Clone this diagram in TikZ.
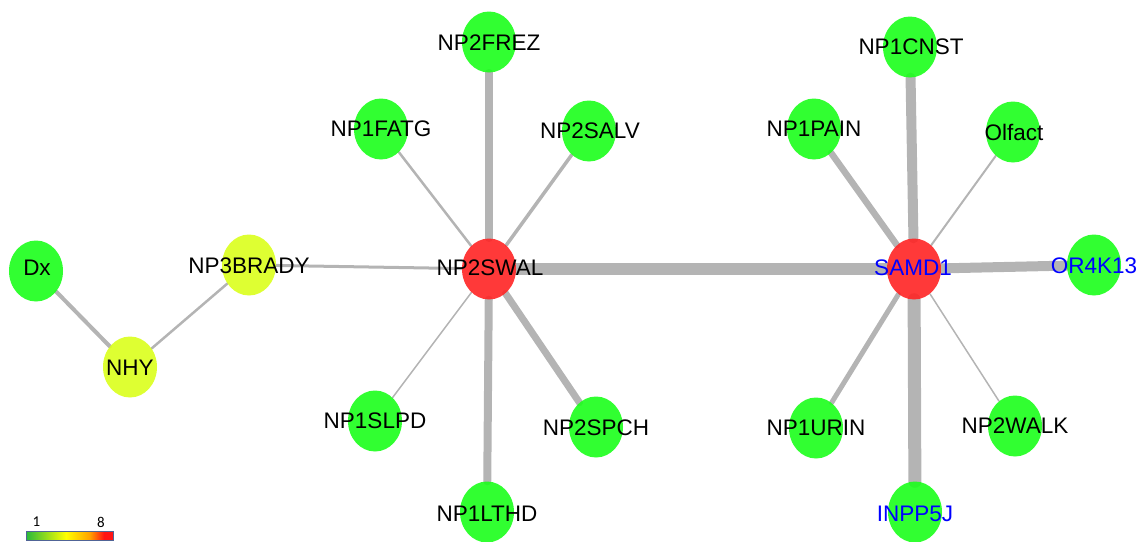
\documentclass[tikz,border=0pt]{standalone}
\usepackage{fontspec}
\setmainfont{Liberation Sans}
\newfontfamily\cbfont{Carlito}
\usetikzlibrary{shapes.geometric,backgrounds}
\definecolor{ngreen}{RGB}{27,255,27}
\definecolor{nred}{RGB}{255,36,36}
\definecolor{nyel}{RGB}{218,255,28}
\definecolor{egray}{RGB}{180,180,180}
\definecolor{nblue}{RGB}{0,0,255}
\definecolor{cbgreen}{RGB}{40,185,60}
\definecolor{cbyel}{RGB}{255,255,0}
\definecolor{cborange}{RGB}{255,160,0}
\definecolor{cbred}{RGB}{255,20,20}
\definecolor{cbframe}{RGB}{80,100,150}
\tikzset{
  nd/.style={ellipse,draw=none,minimum width=54pt,minimum height=61pt,inner sep=0pt,fill opacity=0.9},
  gn/.style={nd,fill=ngreen},
  rn/.style={nd,fill=nred},
  yn/.style={nd,fill=nyel},
  lbl/.style={inner sep=0pt,font=\fontsize{22.5}{26}\selectfont,text=black},
  blbl/.style={lbl,text=nblue},
  ed/.style={draw=egray,line cap=round},
  cblbl/.style={inner sep=0pt,font=\cbfont\fontsize{15}{17}\selectfont},
}
\begin{document}
\begin{tikzpicture}[x=1pt,y=-1pt]
\useasboundingbox (0,0) rectangle (1138,541);
% nodes
\node[gn] (dx) at (36,271) {};
\node[yn] (nhy) at (130,367) {};
\node[yn] (brady) at (249,265) {};
\node[rn] (swal) at (489,269) {};
\node[gn] (frez) at (489,42) {};
\node[gn] (fatg) at (381,129) {};
\node[gn] (salv) at (589,131) {};
\node[gn] (slpd) at (375,421) {};
\node[gn] (spch) at (596,427) {};
\node[gn] (lthd) at (487,512) {};
\node[rn] (samd) at (914,269) {};
\node[gn] (cnst) at (910,47) {};
\node[gn] (pain) at (814,129) {};
\node[gn] (olf) at (1013,132) {};
\node[gn] (or4) at (1094,265) {};
\node[gn] (urin) at (816,428) {};
\node[gn] (walk) at (1015,426) {};
\node[gn] (inpp) at (915,512) {};
% edges
\begin{pgfonlayer}{background}
\draw[ed,line width=4pt] (dx) -- (nhy);
\draw[ed,line width=2.5pt] (nhy) -- (brady);
\draw[ed,line width=3pt] (brady) -- (swal);
\draw[ed,line width=12pt] (swal) -- (samd);
\draw[ed,line width=7.5pt] (swal) -- (frez);
\draw[ed,line width=2.5pt] (swal) -- (fatg);
\draw[ed,line width=3.5pt] (swal) -- (salv);
\draw[ed,line width=1.5pt] (swal) -- (slpd);
\draw[ed,line width=7pt] (swal) -- (spch);
\draw[ed,line width=8pt] (swal) -- (lthd);
\draw[ed,line width=10pt] (samd) -- (cnst);
\draw[ed,line width=6.5pt] (samd) -- (pain);
\draw[ed,line width=2pt] (samd) -- (olf);
\draw[ed,line width=10pt] (samd) -- (or4);
\draw[ed,line width=5pt] (samd) -- (urin);
\draw[ed,line width=1.5pt] (samd) -- (walk);
\draw[ed,line width=13pt] (samd) -- (inpp);
\end{pgfonlayer}
% labels
\node[lbl] (dx-l) at (37,268) {Dx};
\node[lbl] (nhy-l) at (130,368) {NHY};
\node[lbl] (brady-l) at (249,266) {NP3BRADY};
\node[lbl] (swal-l) at (490,268) {NP2SWAL};
\node[lbl] (frez-l) at (489,43) {NP2FREZ};
\node[lbl] (fatg-l) at (381,129) {NP1FATG};
\node[lbl] (salv-l) at (590,131) {NP2SALV};
\node[lbl] (slpd-l) at (375,421) {NP1SLPD};
\node[lbl] (spch-l) at (596,428) {NP2SPCH};
\node[lbl] (lthd-l) at (487,514) {NP1LTHD};
\node[blbl] (samd-l) at (913,268) {SAMD1};
\node[lbl] (cnst-l) at (911,47) {NP1CNST};
\node[lbl] (pain-l) at (814,129) {NP1PAIN};
\node[lbl] (olf-l) at (1014,132) {Olfact};
\node[blbl] (or4-l) at (1094,266) {OR4K13};
\node[lbl] (urin-l) at (816,428) {NP1URIN};
\node[lbl] (walk-l) at (1015,426) {NP2WALK};
\node[blbl] (inpp-l) at (915,514) {INPP5J};
% colour bar
\fill[left color=cbgreen,right color=cbyel] (26,531) rectangle (66,540);
\fill[left color=cbyel,right color=cborange] (66,531) rectangle (90,540);
\fill[left color=cborange,right color=cbred] (90,531) rectangle (104,540);
\fill[cbred] (104,531) rectangle (113,540);
\draw[cbframe,line width=1pt] (26,531) rectangle (113,540);
\node[cblbl] (cb1) at (36.5,522) {1};
\node[cblbl] (cb8) at (101,522) {8};
\end{tikzpicture}
\end{document}
